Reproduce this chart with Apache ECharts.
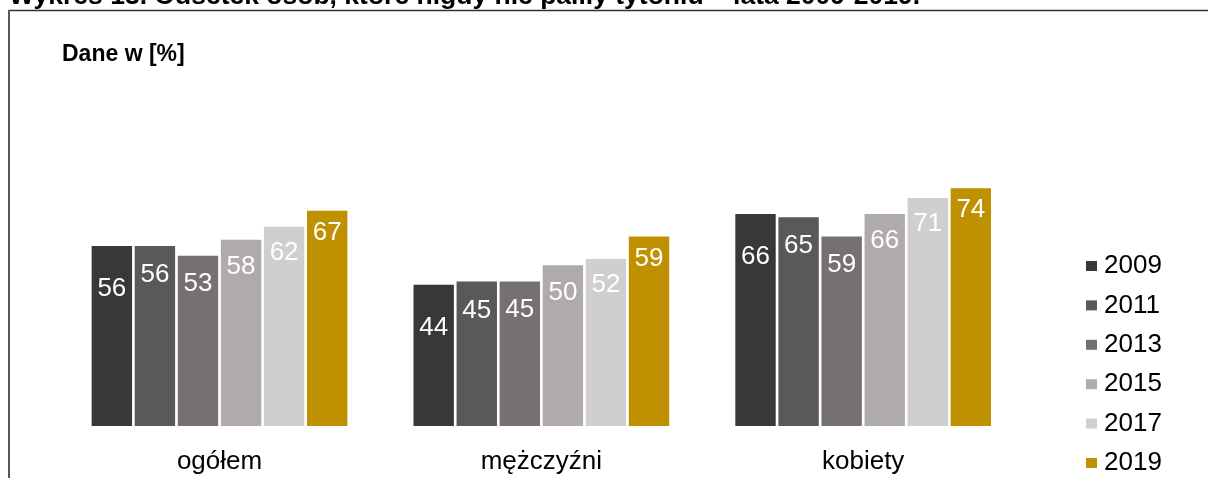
<!DOCTYPE html>
<html>
<head>
<meta charset="utf-8">
<title>Odsetek osób, które nigdy nie paliły tytoniu</title>
<script src="https://cdn.jsdelivr.net/npm/echarts@6/dist/echarts.min.js"></script>
<style>
  html, body { margin: 0; padding: 0; background: #ffffff; }
  #chart { width: 1208px; height: 478px; }
</style>
</head>
<body>
<div id="chart"></div>
<script>
// Groups shown along the horizontal axis
const categories = ['ogółem', 'mężczyźni', 'kobiety'];

// Survey years (one bar per year in every group)
const years = ['2009', '2011', '2013', '2015', '2017', '2019'];

// Share of people who have never smoked, in percent
const values2009 = [56, 44, 66];
const values2011 = [56, 45, 65];
const values2013 = [53, 45, 59];
const values2015 = [58, 50, 66];
const values2017 = [62, 52, 71];
const values2019 = [67, 59, 74];

const seriesValues = [values2009, values2011, values2013, values2015, values2017, values2019];
const colors = ['#3a3836', '#595959', '#767170', '#afabaa', '#d0cecf', '#bf9000'];
// how far below the top of a bar its value sits
const labelDistance = [30, 16, 15, 14, 13, 9];

const FONT = '"Liberation Sans", Arial, sans-serif';

const chart = echarts.init(document.getElementById('chart'), null, { renderer: 'canvas' });

const series = years.map((year, i) => ({
  name: year,
  type: 'bar',
  data: seriesValues[i],
  barWidth: 40.4,
  barGap: '6.6%',
  itemStyle: { color: colors[i] },
  label: {
    show: true,
    position: 'insideTop',
    distance: labelDistance[i],
    color: '#ffffff',
    fontFamily: FONT,
    fontSize: 26
  },
  emphasis: { disabled: true }
}));

chart.setOption({
  animation: false,
  backgroundColor: '#ffffff',
  textStyle: { fontFamily: FONT },
  grid: { left: 58.6, width: 965.5, top: 104.7, bottom: 52, containLabel: false },
  xAxis: {
    type: 'category',
    data: categories,
    axisLine: { show: false },
    axisTick: { show: false },
    axisLabel: { color: '#000000', fontSize: 26, fontFamily: FONT, margin: 23 }
  },
  yAxis: {
    type: 'value',
    min: 0,
    max: 100,
    show: false,
    splitLine: { show: false }
  },
  legend: {
    orient: 'vertical',
    left: 1086,
    top: 253,
    height: 240,
    padding: 0,
    itemWidth: 11,
    itemHeight: 10,
    itemGap: 13.4,
    icon: 'rect',
    selectedMode: false,
    textStyle: { color: '#000000', fontSize: 26, fontFamily: FONT, padding: [0, 0, 0, 2] },
    data: years
  },
  graphic: [
    {
      type: 'text',
      left: 9,
      top: -17,
      style: {
        text: 'Wykres 13. Odsetek osób, które nigdy nie paliły tytoniu – lata 2009-2019.',
        font: 'bold 26.5px ' + FONT,
        fill: '#000000'
      }
    },
    {
      type: 'line',
      shape: { x1: 8, y1: 10.5, x2: 1208, y2: 10.5 },
      style: { stroke: '#333333', lineWidth: 1.6 }
    },
    {
      type: 'line',
      shape: { x1: 9, y1: 10, x2: 9, y2: 478 },
      style: { stroke: '#595959', lineWidth: 2 }
    },
    {
      type: 'text',
      left: 62,
      top: 43,
      style: {
        text: 'Dane w [%]',
        font: 'bold 23px ' + FONT,
        fill: '#000000'
      }
    }
  ],
  series: series
});
</script>
</body>
</html>
